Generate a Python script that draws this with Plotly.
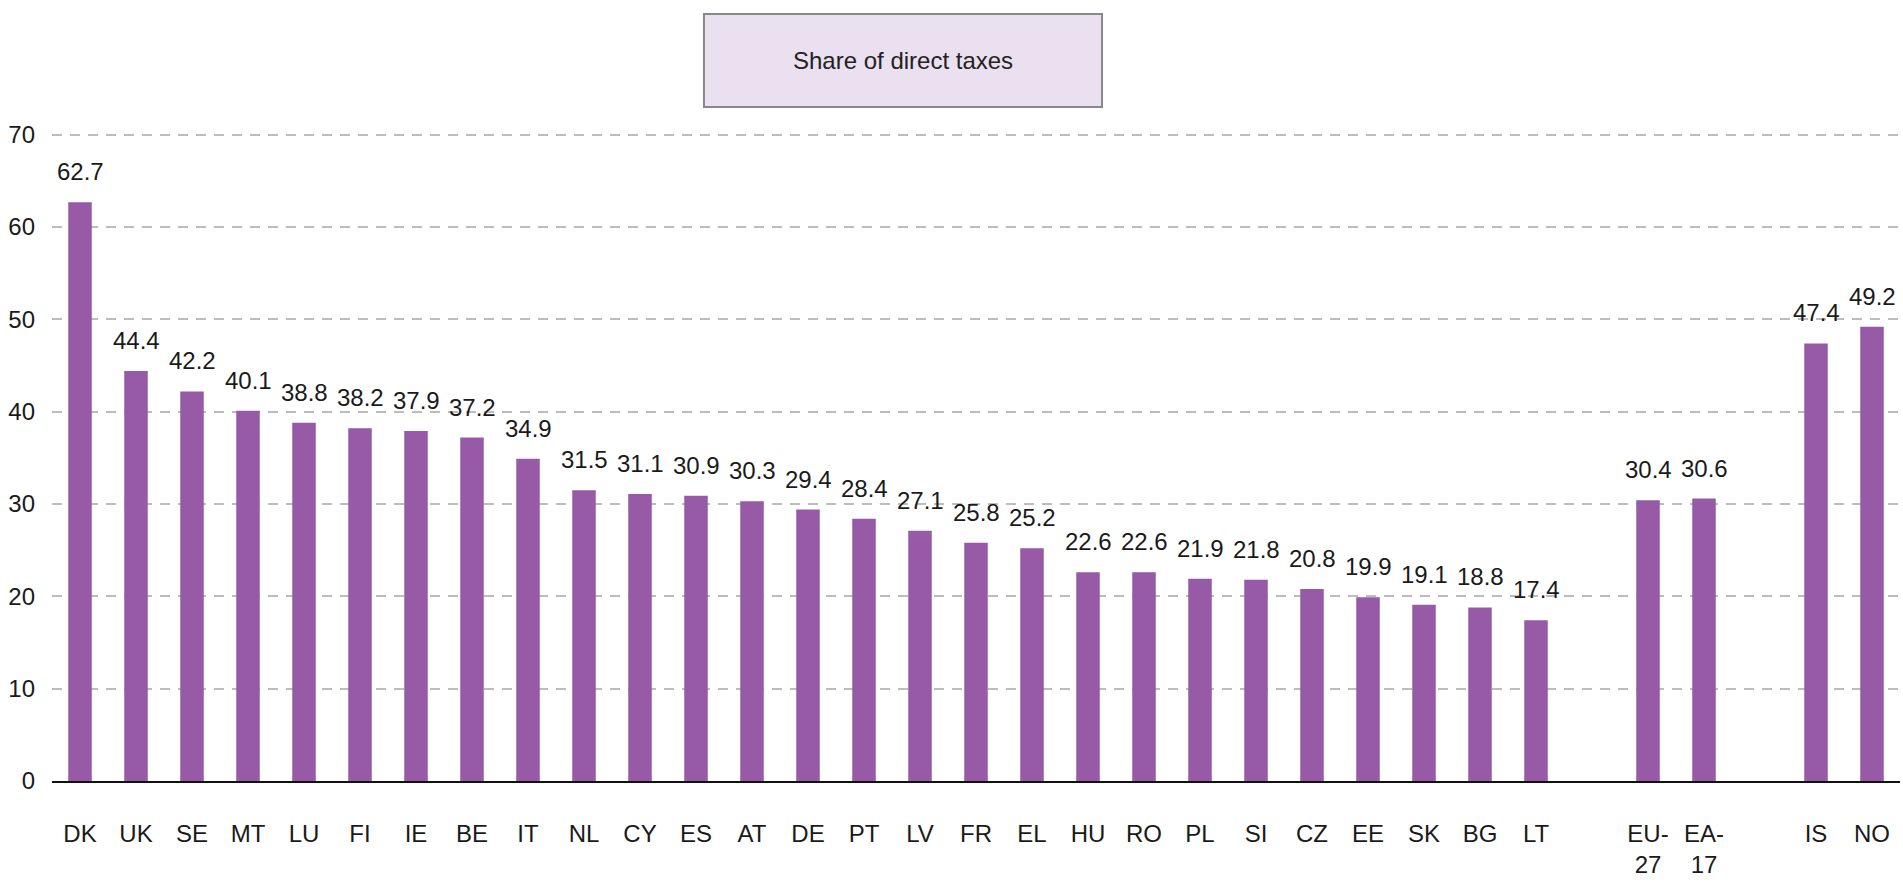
import plotly.graph_objects as go

countries = ["DK", "UK", "SE", "MT", "LU", "FI", "IE", "BE", "IT", "NL", "CY", "ES", "AT", "DE",
             "PT", "LV", "FR", "EL", "HU", "RO", "PL", "SI", "CZ", "EE", "SK", "BG", "LT"]
country_values = [62.7, 44.4, 42.2, 40.1, 38.8, 38.2, 37.9, 37.2, 34.9, 31.5, 31.1, 30.9, 30.3, 29.4,
                  28.4, 27.1, 25.8, 25.2, 22.6, 22.6, 21.9, 21.8, 20.8, 19.9, 19.1, 18.8, 17.4]
aggregates = ["EU-<br>27", "EA-<br>17"]
aggregate_values = [30.4, 30.6]
others = ["IS", "NO"]
other_values = [47.4, 49.2]
y_ticks = [0, 10, 20, 30, 40, 50, 60, 70]
title_text = "Share of direct taxes"

# spacer categories give the blank slots between groups
cats = countries + [" "] + aggregates + ["  "] + others
vals = country_values + [None] + aggregate_values + [None] + other_values

FONT = "Liberation Sans Narrow, Arial Narrow, Liberation Sans, Arial, sans-serif"
FS = 24
BAR = "#975aa6"
TXT = "#1a1a1a"

fig = go.Figure()
fig.add_trace(go.Bar(x=cats, y=vals, marker=dict(color=BAR, line=dict(width=0)),
                     hoverinfo="x+y"))

for c, v in zip(cats, vals):
    if v is None:
        continue
    fig.add_annotation(x=c, y=v, text=f"{v:.1f}", showarrow=False, yanchor="bottom",
                       yshift=15, font=dict(family=FONT, size=FS, color=TXT))

# title box
fig.add_shape(type="rect", xref="paper", yref="paper", x0=0.3528, x1=0.5682, y0=1.0385, y1=1.1818,
              fillcolor="#ebe0ef", line=dict(color="#888888", width=2), layer="above")
fig.add_annotation(xref="paper", yref="paper", x=0.4605, y=1.1109, text=title_text, showarrow=False,
                   xanchor="center", yanchor="middle", font=dict(family=FONT, size=FS, color="#222222"))

fig.update_layout(
    width=1903, height=886,
    margin=dict(l=52, r=3, t=132, b=105),
    paper_bgcolor="white", plot_bgcolor="white",
    bargap=0.58, showlegend=False,
    font=dict(family=FONT, size=FS, color=TXT),
)
fig.update_xaxes(type="category", showgrid=False, showline=True, linecolor="#111111", linewidth=2,
                 ticks="", tickfont=dict(family=FONT, size=FS, color=TXT),
                 ticklabelstandoff=30, tickangle=0)
fig.update_yaxes(range=[0, 70.3], tickvals=y_ticks, showgrid=True, gridcolor="#bdbdbd", gridwidth=1.5,
                 griddash="10px,8px", zeroline=False, showline=False, ticks="",
                 tickfont=dict(family=FONT, size=FS, color=TXT), ticklabelstandoff=16)

fig.write_html("out.html", config={"displayModeBar": False},
               post_script="document.body.style.margin='0';document.body.style.overflow='hidden';")
